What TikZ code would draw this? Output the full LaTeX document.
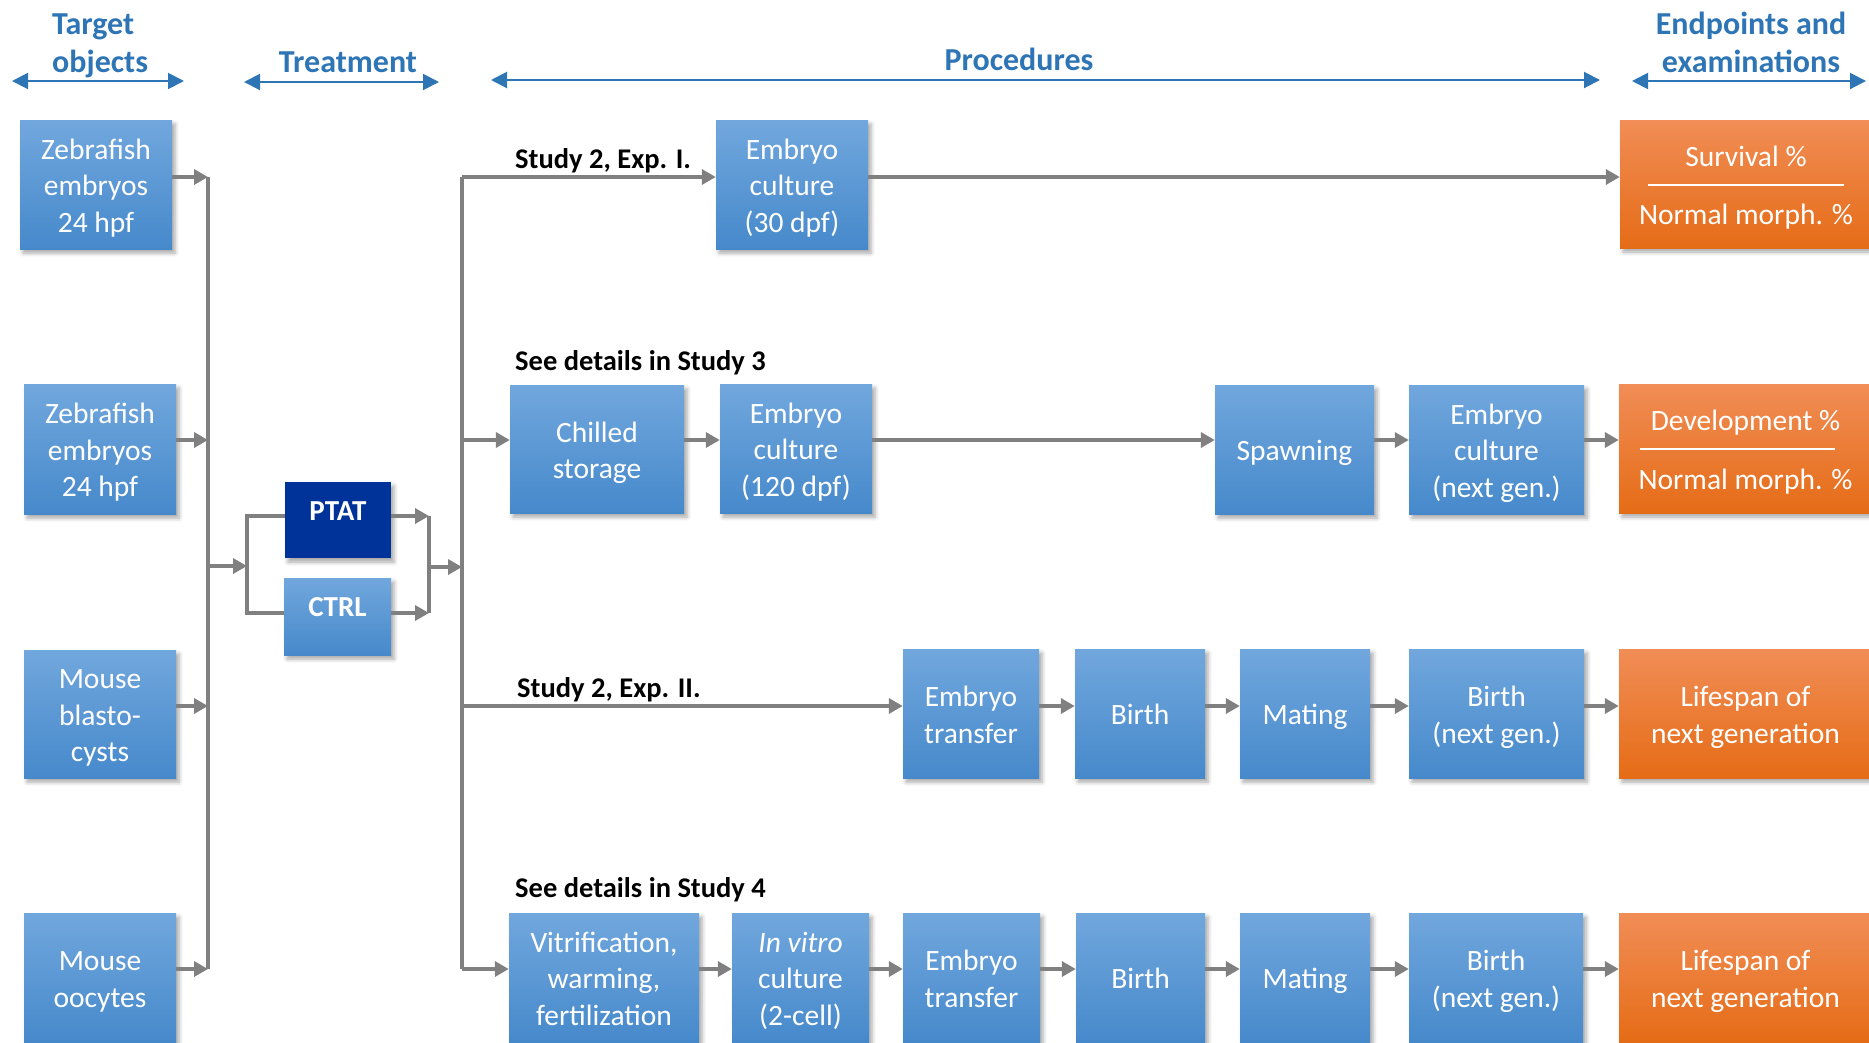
\documentclass[tikz,border=0pt]{standalone}
\usepackage{fontspec}
\setmainfont{Carlito}
\usetikzlibrary{arrows.meta,shadows.blur}
\definecolor{hdrblue}{RGB}{46,117,182}
\definecolor{btop}{RGB}{113,167,221}
\definecolor{bbot}{RGB}{70,137,203}
\definecolor{otop}{RGB}{241,141,86}
\definecolor{obot}{RGB}{229,108,22}
\definecolor{ptatblue}{RGB}{0,51,153}
\definecolor{conngray}{RGB}{128,128,128}
\newcommand\bt[1]{\raisebox{-4pt}[\height][\depth]{\begin{tabular}{@{}c@{}}#1\end{tabular}}}
\tikzset{
  bx/.style={inner sep=0pt, text=white, font=\fontsize{29.5}{36.5}\selectfont,
    blur shadow={shadow xshift=3pt, shadow yshift=-4pt, shadow blur radius=4pt, shadow opacity=35}},
  bluebox/.style={bx, top color=btop, bottom color=bbot},
  orbox/.style={bx, top color=otop, bottom color=obot},
  trbox/.style={inner sep=0pt, align=center, text=white, font=\bfseries\fontsize{29}{36}\selectfont,
    execute at begin node={\rule{0pt}{20pt}}, execute at end node={\rule[-20pt]{0pt}{20pt}},
    blur shadow={shadow xshift=3pt, shadow yshift=-4pt, shadow blur radius=4pt, shadow opacity=35}},
  etxt/.style={inner sep=0pt, text=white, font=\fontsize{29.5}{36.5}\selectfont, anchor=base},
  conn/.style={draw=conngray, line width=3.8pt},
  arr/.style={conn, -{Triangle[length=14pt,width=15pt]}},
  hdrarr/.style={draw=hdrblue, line width=2pt, {Triangle[length=16pt,width=16pt]}-{Triangle[length=16pt,width=16pt]}},
  hdr/.style={inner sep=0pt, text=hdrblue, font=\bfseries\fontsize{32}{39}\selectfont, anchor=base},
  lbl/.style={inner sep=0pt, font=\bfseries\fontsize{28.5}{34}\selectfont, anchor=base west},
  sep/.style={draw=white, line width=1.3pt}
}
\begin{document}
\begin{tikzpicture}[x=1pt,y=-1pt]
\useasboundingbox (0,0) rectangle (1869,1042);

% headers
\node[hdr, anchor=base west] (h1a) at (52,34) {Target};
\node[hdr, anchor=base west] (h1b) at (52,72) {objects};
\node[hdr] (h2) at (348,72) {Treatment};
\node[hdr] (h3) at (1019,70) {Procedures};
\node[hdr] (h4a) at (1751,34) {Endpoints and};
\node[hdr] (h4b) at (1751,72) {examinations};
\coordinate (a1l) at (12,81);   \coordinate (a1r) at (184,81);
\coordinate (a2l) at (244,82);  \coordinate (a2r) at (439,82);
\coordinate (a3l) at (491,80);  \coordinate (a3r) at (1600,80);
\coordinate (a4l) at (1632,81); \coordinate (a4r) at (1866,81);
\draw[hdrarr] (a1l) -- (a1r);
\draw[hdrarr] (a2l) -- (a2r);
\draw[hdrarr] (a3l) -- (a3r);
\draw[hdrarr] (a4l) -- (a4r);

% target objects
\node[bluebox, minimum width=152pt, minimum height=129pt] (z1) at (96,184.5) {\bt{Zebrafish\\embryos\\24 hpf}};
\node[bluebox, minimum width=152pt, minimum height=130pt] (z2) at (100,449) {\bt{Zebrafish\\embryos\\24 hpf}};
\node[bluebox, minimum width=152pt, minimum height=128pt] (mbl) at (100,714) {\bt{Mouse\\blasto-\\cysts}};
\node[bluebox, minimum width=152pt, minimum height=129pt] (moo) at (100,977.5) {\bt{Mouse\\oocytes}};

% treatment
\node[trbox, fill=ptatblue, minimum width=106pt, minimum height=76pt] (ptat) at (338,520) {PTAT};
\node[trbox, top color=btop, bottom color=bbot, minimum width=107pt, minimum height=77pt] (ctrl) at (337.5,616.5) {CTRL};

% row 1
\node[bluebox, minimum width=152pt, minimum height=129pt] (ec30) at (792,184.5) {\bt{Embryo\\culture\\(30 dpf)}};
\node[orbox, minimum width=252pt, minimum height=128pt] (sv) at (1746,184) {};
\node[etxt] (sv1) at ([yshift=18pt]sv.center) {Survival \%};
\node[etxt] (sv2) at ([yshift=-40pt]sv.center) {Normal morph. \%};
\draw[sep] ([xshift=-98pt,yshift=-1pt]sv.center) -- ([xshift=98pt,yshift=-1pt]sv.center);

% row 2
\node[bluebox, minimum width=174pt, minimum height=128pt] (cs) at (597,449) {\bt{Chilled\\storage}};
\node[bluebox, minimum width=152pt, minimum height=129pt] (ec120) at (796,448.5) {\bt{Embryo\\culture\\(120 dpf)}};
\node[bluebox, minimum width=159pt, minimum height=129pt] (sp) at (1294.5,449.5) {\bt{Spawning}};
\node[bluebox, minimum width=175pt, minimum height=129pt] (ecn) at (1496.5,449.5) {\bt{Embryo\\culture\\(next gen.)}};
\node[orbox, minimum width=253pt, minimum height=129pt] (dev) at (1745.5,448.5) {};
\node[etxt] (dv1) at ([yshift=18.5pt]dev.center) {Development \%};
\node[etxt] (dv2) at ([yshift=-40.5pt]dev.center) {Normal morph. \%};
\draw[sep] ([xshift=-106pt,yshift=-0.5pt]dev.center) -- ([xshift=89pt,yshift=-0.5pt]dev.center);

% row 3
\node[bluebox, minimum width=136pt, minimum height=129pt] (et3) at (971,713.5) {\bt{Embryo\\transfer}};
\node[bluebox, minimum width=130pt, minimum height=129pt] (b3) at (1140,713.5) {\bt{Birth}};
\node[bluebox, minimum width=130pt, minimum height=129pt] (m3) at (1305,713.5) {\bt{Mating}};
\node[bluebox, minimum width=175pt, minimum height=129pt] (bn3) at (1496.5,713.5) {\bt{Birth\\(next gen.)}};
\node[orbox, minimum width=253pt, minimum height=129pt] (ls3) at (1745.5,713.5) {\bt{Lifespan of\\next generation}};

% row 4
\node[bluebox, minimum width=190pt, minimum height=129pt] (vwf) at (604,977.5) {\bt{Vitrification,\\warming,\\fertilization}};
\node[bluebox, minimum width=137pt, minimum height=129pt] (ivc) at (800.5,977.5) {\bt{\itshape In vitro\\culture\\(2-cell)}};
\node[bluebox, minimum width=137pt, minimum height=129pt] (et4) at (971.5,977.5) {\bt{Embryo\\transfer}};
\node[bluebox, minimum width=129pt, minimum height=129pt] (b4) at (1140.5,977.5) {\bt{Birth}};
\node[bluebox, minimum width=130pt, minimum height=129pt] (m4) at (1305,977.5) {\bt{Mating}};
\node[bluebox, minimum width=174pt, minimum height=129pt] (bn4) at (1496,977.5) {\bt{Birth\\(next gen.)}};
\node[orbox, minimum width=253pt, minimum height=129pt] (ls4) at (1745.5,977.5) {\bt{Lifespan of\\next generation}};

% labels
\node[lbl] (l1) at (515,168) {Study 2, Exp. I.};
\node[lbl] (l2) at (515,370) {See details in Study 3};
\node[lbl] (l3) at (517,697) {Study 2, Exp. II.};
\node[lbl] (l4) at (515,897) {See details in Study 4};

% left bus
\coordinate (lb1) at (208,177);
\coordinate (lb2) at (208,440);
\coordinate (lb3) at (208,706);
\coordinate (lb4) at (208,969);
\coordinate (lbt) at (208,566);
\draw[conn] (lb1) -- (lb4);
\draw[arr] (z1.east |- lb1) -- (lb1);
\draw[arr] (z2.east |- lb2) -- (lb2);
\draw[arr] (mbl.east |- lb3) -- (lb3);
\draw[arr] (moo.east |- lb4) -- (lb4);

% treatment split / merge
\coordinate (ts) at (247,566);
\coordinate (tsa) at (247,516);
\coordinate (tsb) at (247,613);
\coordinate (tma) at (429,516);
\coordinate (tmb) at (429,613);
\coordinate (tmm) at (429,567);
\draw[arr] (lbt) -- (ts);
\draw[conn] (ptat.west |- tsa) -- (tsa) -- (tsb) -- (ctrl.west |- tsb);
\draw[arr] (ptat.east |- tma) -- (tma);
\draw[arr] (ctrl.east |- tmb) -- (tmb);
\draw[conn] (tma) -- (tmb);

% main bus
\coordinate (mb1) at (462,177);
\coordinate (mb2) at (462,440);
\coordinate (mb3) at (462,706);
\coordinate (mb4) at (462,969);
\coordinate (mbt) at (462,567);
\draw[arr] (tmm) -- (mbt);
\draw[conn] (mb1) -- (mb4);
\draw[arr] (mb1) -- (ec30.west |- mb1);
\draw[arr] (mb2) -- (cs.west |- mb2);
\draw[arr] (mb3) -- (et3.west |- mb3);
\draw[arr] (mb4) -- (vwf.west |- mb4);

% row connectors
\draw[arr] (ec30.east |- mb1) -- (sv.west |- mb1);
\draw[arr] (cs.east |- mb2) -- (ec120.west |- mb2);
\draw[arr] (ec120.east |- mb2) -- (sp.west |- mb2);
\draw[arr] (sp.east |- mb2) -- (ecn.west |- mb2);
\draw[arr] (ecn.east |- mb2) -- (dev.west |- mb2);
\draw[arr] (et3.east |- mb3) -- (b3.west |- mb3);
\draw[arr] (b3.east |- mb3) -- (m3.west |- mb3);
\draw[arr] (m3.east |- mb3) -- (bn3.west |- mb3);
\draw[arr] (bn3.east |- mb3) -- (ls3.west |- mb3);
\draw[arr] (vwf.east |- mb4) -- (ivc.west |- mb4);
\draw[arr] (ivc.east |- mb4) -- (et4.west |- mb4);
\draw[arr] (et4.east |- mb4) -- (b4.west |- mb4);
\draw[arr] (b4.east |- mb4) -- (m4.west |- mb4);
\draw[arr] (m4.east |- mb4) -- (bn4.west |- mb4);
\draw[arr] (bn4.east |- mb4) -- (ls4.west |- mb4);
\end{tikzpicture}
\end{document}
